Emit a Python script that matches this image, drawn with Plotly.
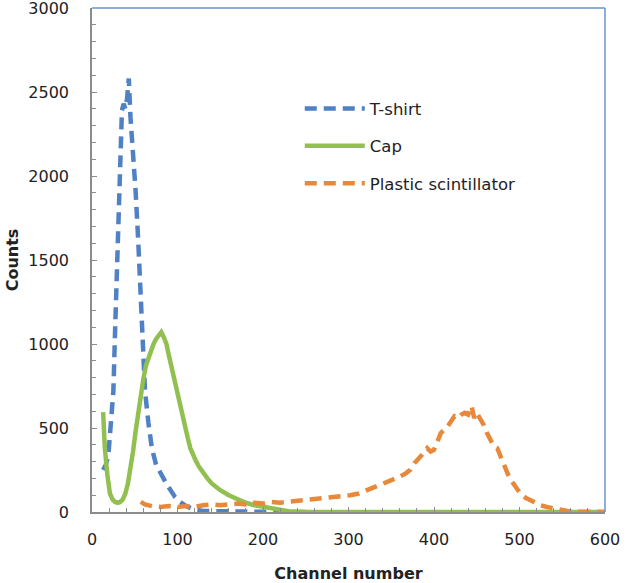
import plotly.graph_objects as go

# ---- data ----
tshirt_ch = [13, 16, 19, 21, 23, 25, 27, 29, 31, 33, 35, 37, 39, 41, 43, 45, 47, 49, 51, 54,
             57, 59, 62, 66, 70, 75, 80, 88, 97, 103, 110, 119, 130, 150, 175, 200, 225]
tshirt_val = [250, 280, 330, 480, 600, 720, 1080, 1420, 1720, 2010, 2390, 2430, 2400, 2460, 2580,
              2350, 2210, 2050, 1910, 1620, 1320, 1020, 720, 530, 380, 280, 230, 160, 90, 60,
              35, 15, 6, 3, 2, 1, 0]

cap_ch = [13, 15, 18, 21, 24, 27, 30, 33, 36, 39, 42, 45, 48, 51, 54, 57, 60, 63, 66, 69, 72,
          75, 78, 81, 84, 87, 90, 93, 96, 99, 103, 106, 109, 112, 115, 118, 121, 125, 130, 135,
          140, 145, 150, 160, 170, 180, 190, 200, 210, 220, 230, 250, 300, 400, 500, 600]
cap_val = [595, 380, 220, 110, 75, 60, 55, 60, 75, 110, 170, 250, 360, 480, 590, 700, 790, 870,
           920, 970, 1000, 1030, 1050, 1070, 1040, 1000, 930, 860, 790, 740, 640, 570, 500, 440,
           380, 340, 310, 270, 230, 200, 170, 150, 130, 100, 75, 55, 40, 30, 20, 12, 5, 2, 0, 0,
           0, 0]

plastic_ch = [57, 62, 70, 80, 90, 100, 110, 120, 130, 140, 150, 160, 170, 180, 190, 200, 210,
              220, 230, 244, 255, 263, 272, 283, 292, 302, 312, 322, 331, 341, 350, 360, 367,
              372, 377, 381, 386, 392, 396, 400, 404, 408, 412, 416, 420, 424, 428, 432, 436,
              440, 444, 447, 450, 454, 458, 462, 466, 470, 474, 478, 482, 486, 490, 495, 501,
              507, 513, 519, 525, 532, 540, 548, 556, 570, 585, 600]
plastic_val = [60, 45, 35, 30, 35, 30, 35, 30, 40, 45, 40, 45, 50, 45, 55, 50, 60, 55, 60, 70,
               75, 80, 85, 90, 95, 100, 110, 130, 150, 170, 185, 210, 230, 250, 290, 310, 340,
               380, 360, 370, 420, 470, 490, 510, 540, 570, 560, 580, 590, 580, 630, 560, 590,
               560, 520, 470, 430, 390, 380, 330, 270, 230, 190, 150, 110, 85, 70, 55, 40, 30,
               20, 12, 6, 3, 0, 0]

x_ticks = [0, 100, 200, 300, 400, 500, 600]
y_ticks = [0, 500, 1000, 1500, 2000, 2500, 3000]

BLUE = "#4F81C4"
GREEN = "#92C050"
ORANGE = "#E8883A"
FONT = "DejaVu Sans"

fig = go.Figure()
fig.add_trace(go.Scatter(x=tshirt_ch, y=tshirt_val, mode="lines", name="T-shirt",
                         legendgroup="a",
                         line=dict(color=BLUE, width=4.5, dash="12px,7px")))
fig.add_trace(go.Scatter(x=cap_ch, y=cap_val, mode="lines", name="Cap",
                         legendgroup="b",
                         line=dict(color=GREEN, width=4.5)))
fig.add_trace(go.Scatter(x=plastic_ch, y=plastic_val, mode="lines", name="Plastic scintillator",
                         legendgroup="c",
                         line=dict(color=ORANGE, width=4.5, dash="12px,7px")))

axis_common = dict(showgrid=False, zeroline=False, showline=True, linecolor="#8C8C8C",
                   linewidth=1.5, ticks="inside", ticklen=5, tickcolor="#8C8C8C",
                   automargin=False, ticklabeloverflow="allow",
                   tickfont=dict(family=FONT, size=16, color="#222222"))

fig.update_xaxes(range=[0, 600], tickvals=x_ticks, ticktext=[str(v) for v in x_ticks],
                 minor=dict(dtick=20, ticks="inside", ticklen=4, tickcolor="#8C8C8C"),
                 ticklabelstandoff=12,
                 title=dict(text="<b>Channel number</b>", standoff=27,
                            font=dict(family=FONT, size=16, color="#222222")),
                 **axis_common)
fig.update_yaxes(range=[0, 3000], tickvals=y_ticks, ticktext=[str(v) for v in y_ticks],
                 minor=dict(dtick=100, ticks="inside", ticklen=4, tickcolor="#8C8C8C"),
                 ticklabelstandoff=18,
                 title=dict(text="<b>Counts</b>", standoff=6,
                            font=dict(family=FONT, size=16, color="#222222")),
                 **axis_common)

# top and right frame lines (blue)
fig.add_shape(type="line", xref="paper", yref="paper", x0=0, x1=1, y0=1, y1=1,
              line=dict(color="#6A93CC", width=1.5))
fig.add_shape(type="line", xref="paper", yref="paper", x0=1, x1=1, y0=0, y1=1,
              line=dict(color="#6A93CC", width=1.5))

fig.update_layout(
    width=626, height=583,
    margin=dict(l=92, r=21, t=8, b=71, autoexpand=False),
    paper_bgcolor="white", plot_bgcolor="white",
    showlegend=True,
    legend=dict(x=0.405, y=0.835, xanchor="left", yanchor="top",
                bgcolor="rgba(0,0,0,0)", itemwidth=60, tracegroupgap=13,
                font=dict(family=FONT, size=16.5, color="#222222")),
)

fig.write_html("out.html", config={"displayModeBar": False},
               post_script="document.body.style.margin='0';document.body.style.padding='0';")
